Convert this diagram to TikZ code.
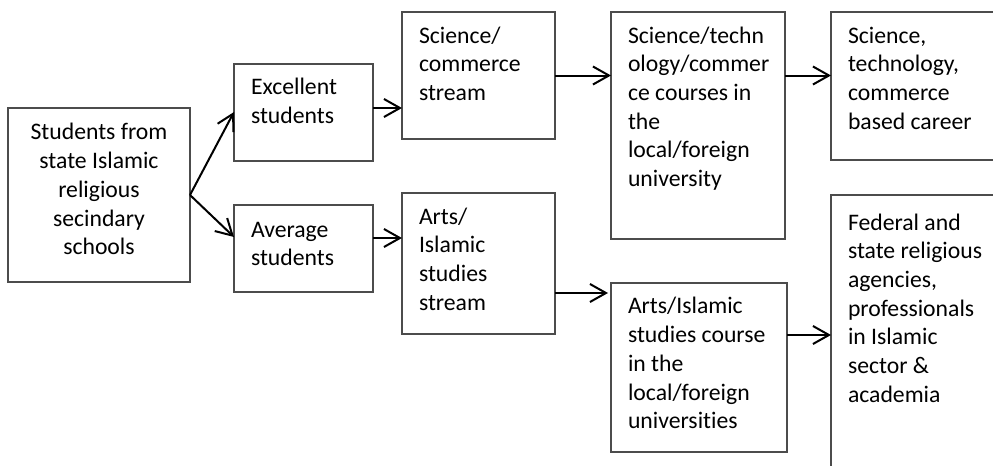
\documentclass[tikz,border=0pt]{standalone}
\usepackage{fontspec}
\setmainfont{Carlito}[Ligatures=NoCommon]
\usetikzlibrary{arrows.meta}
\newcommand\txtl[1]{\begin{tabular}[t]{@{}l@{}}#1\end{tabular}}
\newcommand\txtc[1]{\begin{tabular}[t]{@{}c@{}}#1\end{tabular}}
\tikzset{
  boxnode/.style={draw=black!70, line width=0.6pt, rectangle, anchor=north west, inner sep=0pt, outer sep=0pt},
  lbl/.style={inner sep=0pt, outer sep=0pt, font=\fontsize{11.85}{14.35}\selectfont},
  arr/.style={line width=1pt, -{Straight Barb[length=8pt,width=9pt,line width=1pt]}}
}
\begin{document}
\begin{tikzpicture}[x=0.5pt,y=-0.5pt]
\useasboundingbox (0,0) rectangle (993,466);
\clip (0,0) rectangle (993,466);
% boxes
\node[boxnode, minimum width=91pt, minimum height=87pt] (n1) at (8,108) {};
\node[boxnode, minimum width=69.5pt, minimum height=48.5pt] (n2) at (234,64) {};
\node[boxnode, minimum width=69.5pt, minimum height=43.5pt] (n3) at (234,205) {};
\node[boxnode, minimum width=76.5pt, minimum height=63.5pt] (n4) at (402,12) {};
\node[boxnode, minimum width=76.5pt, minimum height=70.5pt] (n5) at (402,193) {};
\node[boxnode, minimum width=87pt, minimum height=113.5pt] (n6) at (611,12) {};
\node[boxnode, minimum width=100pt, minimum height=74pt] (n7) at (831,12) {};
\node[boxnode, minimum width=88pt, minimum height=84.5pt] (n8) at (611,283) {};
\node[boxnode, minimum width=100pt, minimum height=150pt] (n9) at (831,195) {};
% texts
\node[lbl, anchor=base] (t1) at (99,140) {\txtc{Students from\\state Islamic\\religious\\secindary\\schools}};
\node[lbl, anchor=base west] (t2) at (251,95) {\txtl{Excellent\\students}};
\node[lbl, anchor=base west] (t3) at (251,237) {\txtl{Average\\students}};
\node[lbl, anchor=base west] (t4) at (419,43) {\txtl{Science/\\commerce\\stream}};
\node[lbl, anchor=base west] (t5) at (419,224) {\txtl{Arts/\\Islamic\\studies\\stream}};
\node[lbl, anchor=base west] (t6) at (628,43) {\txtl{Science/techn\\ology/commer\\ce courses in\\the\\local/foreign\\university}};
\node[lbl, anchor=base west] (t7) at (848,43) {\txtl{Science,\\technology,\\commerce\\based career}};
\node[lbl, anchor=base west] (t8) at (628,314) {\txtl{Arts/Islamic\\studies course\\in the\\local/foreign\\universities}};
\node[lbl, anchor=base west] (t9) at (848,230) {\txtl{Federal and\\state religious\\agencies,\\professionals\\in Islamic\\sector \&\\academia}};
% connectors
\coordinate (c1) at ([yshift=0.25pt]n2.west);
\coordinate (c2) at ([yshift=5.75pt]n3.west);
\draw[arr] (n1.east) -- (c1);
\draw[arr] (n1.east) -- (c2);
\coordinate (c3) at ([yshift=2.25pt]n2.east);
\draw[arr] (c3) -- (c3 -| n4.west);
\coordinate (c4) at ([yshift=5.25pt]n3.east);
\draw[arr] (c4) -- (c4 -| n5.west);
\draw[arr] (n4.east) -- (n4.east -| n6.west);
\coordinate (c5) at ([yshift=-14.75pt]n5.east);
\draw[arr] (c5) -- ([xshift=-1.5pt]c5 -| n8.west);
\coordinate (c6) at (n4.east -| n6.east);
\draw[arr] (c6) -- (c6 -| n7.west);
\coordinate (c7) at ([yshift=16.25pt]n8.east);
\draw[arr] (c7) -- (c7 -| n9.west);
\end{tikzpicture}
\end{document}
